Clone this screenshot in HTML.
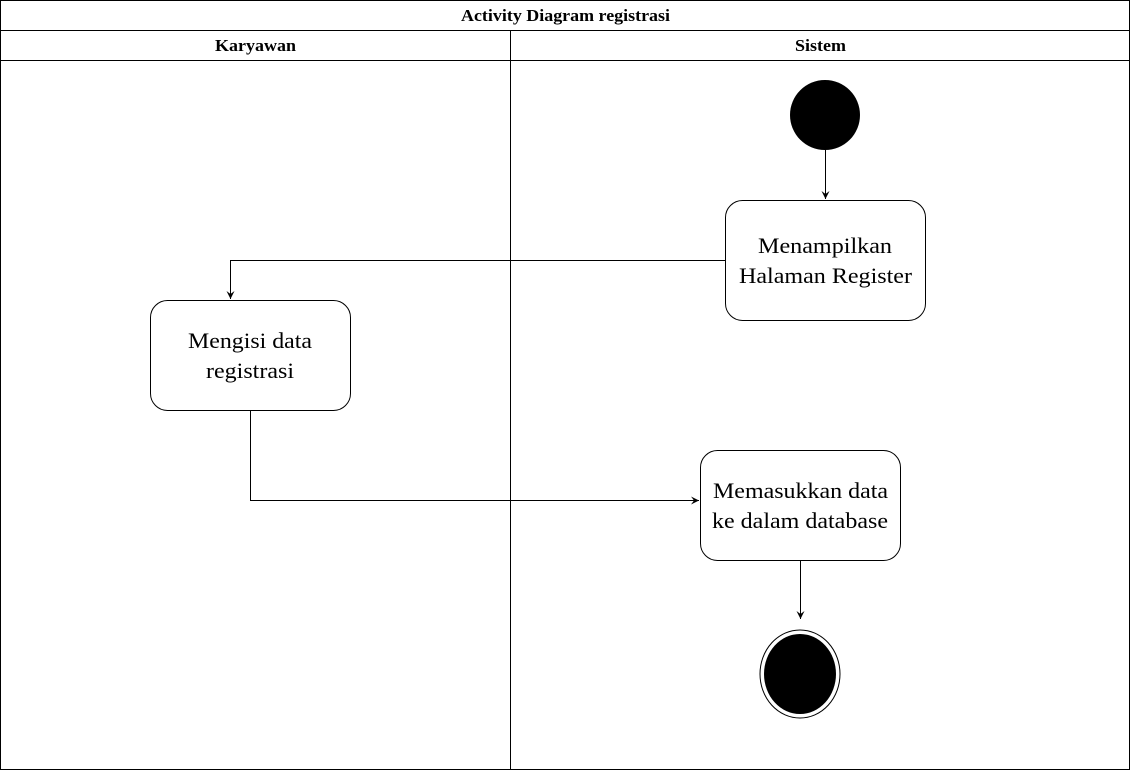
<!DOCTYPE html>
<html><head><meta charset="utf-8"><style>
html,body{margin:0;padding:0;background:#fff;}
svg{display:block;}
text{font-family:"Liberation Serif",serif;}
</style></head><body>
<svg width="1131" height="771" viewBox="0 0 1131 771" xmlns="http://www.w3.org/2000/svg">
<defs><marker id="a" markerWidth="10" markerHeight="10" refX="8" refY="5" orient="auto" markerUnits="userSpaceOnUse"><path d="M0,1 L8,5 L0,9 L3,5 Z" fill="#000"/></marker></defs>
<rect x="0.5" y="0.5" width="1129" height="769" fill="#fff" stroke="#000"/>
<line x1="0" y1="30.5" x2="1130" y2="30.5" stroke="#000"/>
<line x1="0" y1="60.5" x2="1130" y2="60.5" stroke="#000"/>
<line x1="510.5" y1="30" x2="510.5" y2="770" stroke="#000"/>
<text x="461" y="21" font-size="17" font-weight="bold" textLength="209" lengthAdjust="spacingAndGlyphs">Activity Diagram registrasi</text>
<text x="215" y="51" font-size="17" font-weight="bold" textLength="81" lengthAdjust="spacingAndGlyphs">Karyawan</text>
<text x="795" y="51" font-size="17" font-weight="bold" textLength="51" lengthAdjust="spacingAndGlyphs">Sistem</text>
<circle cx="825" cy="115" r="35" fill="#000"/>
<line x1="825.5" y1="150" x2="825.5" y2="199" stroke="#000" marker-end="url(#a)"/>
<rect x="725.5" y="200.5" width="200" height="120" rx="17" fill="#fff" stroke="#000"/>
<text x="758" y="253" font-size="22" textLength="134" lengthAdjust="spacingAndGlyphs">Menampilkan</text>
<text x="739" y="283" font-size="22" textLength="173" lengthAdjust="spacingAndGlyphs">Halaman Register</text>
<polyline points="725,260.5 230.5,260.5 230.5,299" fill="none" stroke="#000" marker-end="url(#a)"/>
<rect x="150.5" y="300.5" width="200" height="110" rx="17" fill="#fff" stroke="#000"/>
<text x="188" y="348" font-size="22" textLength="124" lengthAdjust="spacingAndGlyphs">Mengisi data</text>
<text x="206" y="378" font-size="22" textLength="88" lengthAdjust="spacingAndGlyphs">registrasi</text>
<polyline points="250.5,410 250.5,500.5 699,500.5" fill="none" stroke="#000" marker-end="url(#a)"/>
<rect x="700.5" y="450.5" width="200" height="110" rx="17" fill="#fff" stroke="#000"/>
<text x="713" y="498" font-size="22" textLength="175" lengthAdjust="spacingAndGlyphs">Memasukkan data</text>
<text x="712" y="528" font-size="22" textLength="176" lengthAdjust="spacingAndGlyphs">ke dalam database</text>
<line x1="800.5" y1="560" x2="800.5" y2="619" stroke="#000" marker-end="url(#a)"/>
<ellipse cx="800" cy="674" rx="40" ry="44" fill="#fff" stroke="#000"/>
<ellipse cx="800" cy="674" rx="36" ry="40" fill="#000"/>
</svg>
</body></html>
